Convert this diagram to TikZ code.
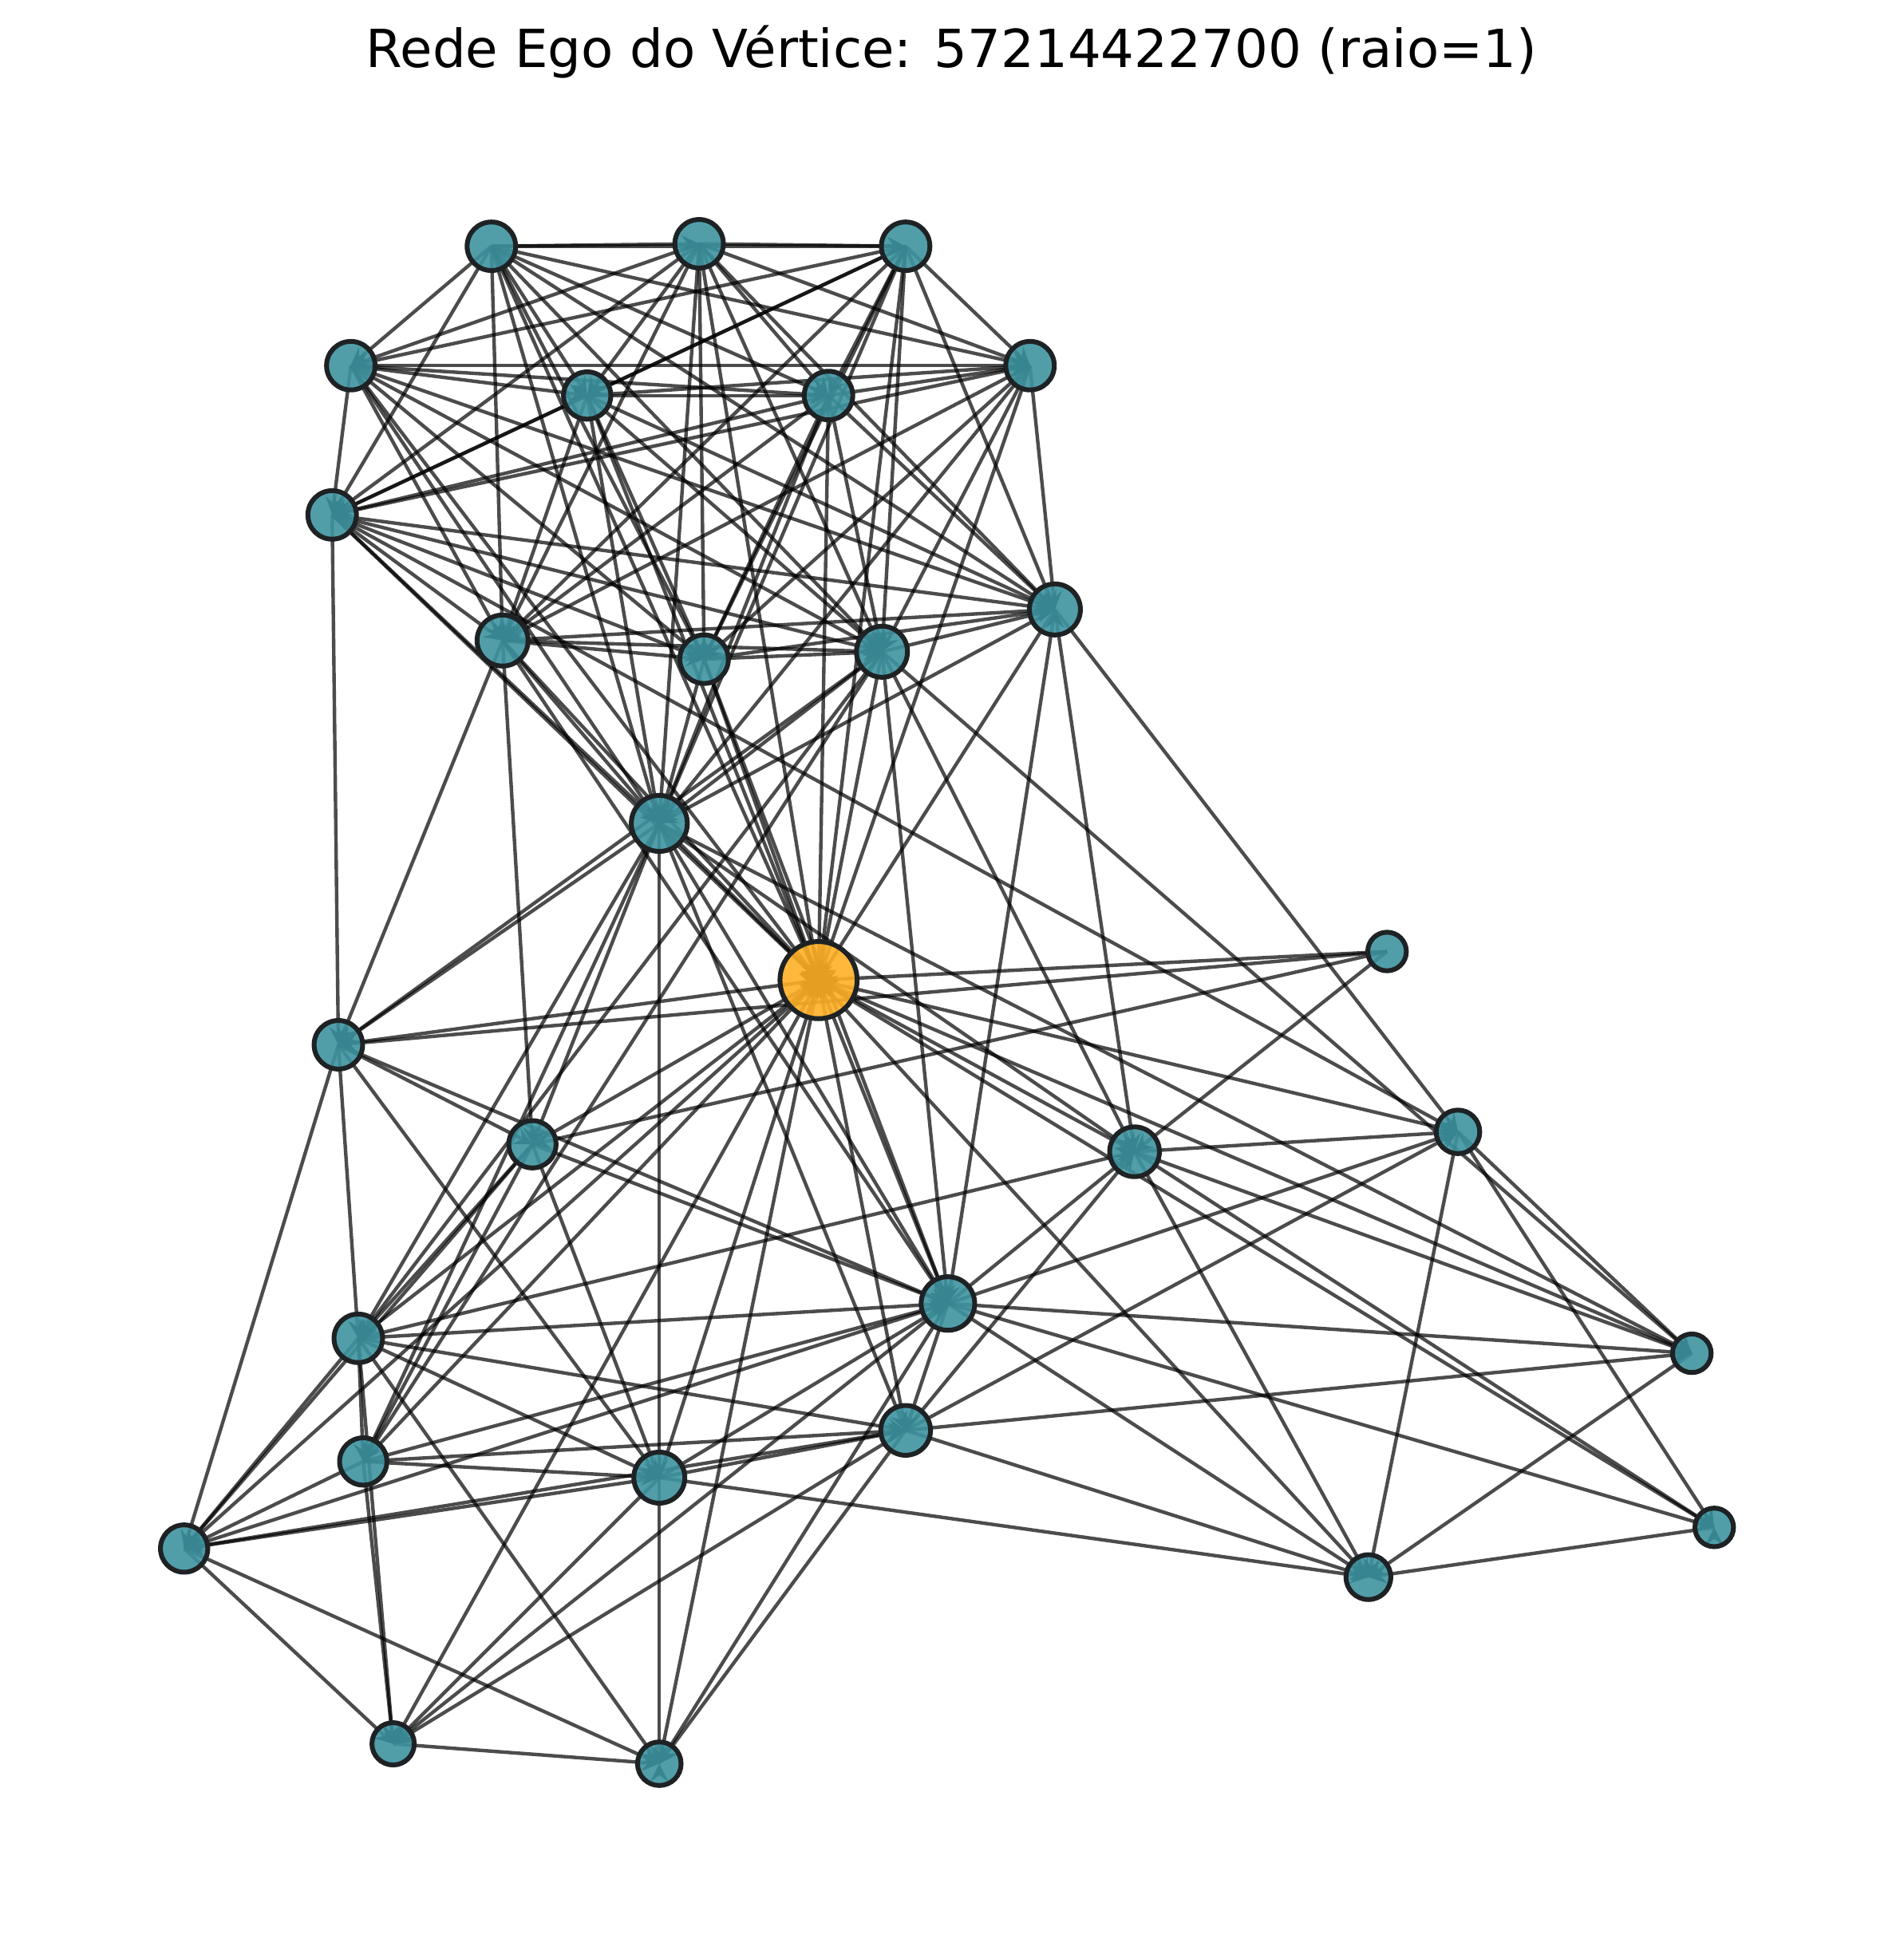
\documentclass[tikz,border=0pt]{standalone}
\usepackage{fontspec}
\setmainfont{DejaVu Sans}
\usetikzlibrary{arrows}
\definecolor{nodeteal}{RGB}{62,148,160}
\definecolor{egoorange}{RGB}{255,176,38}
\definecolor{rimgray}{RGB}{30,34,36}
\pgfdeclarelayer{bg}
\pgfsetlayers{bg,main}

\begin{document}
\begin{tikzpicture}[x=0.01cm, y=-0.01cm,
	vtx/.style = {draw=rimgray, circle, fill=nodeteal, fill opacity=0.9, line width=1.1pt, inner sep=0pt, minimum size=#1},
	egovtx/.style = {vtx=#1, fill=egoorange, fill opacity=0.9},
	lnk/.style = {draw=black, draw opacity=0.7, line width=0.8pt, -stealth}]
	\useasboundingbox (0,0) rectangle (1530,1571);
	\node[font=\fontsize{12}{14}\selectfont] (title) at (765,42) {Rede Ego do Vértice: 57214422700 (raio=1)};
	% upper group
	\node[vtx=0.39cm] (a) at (395,198) {};
	\node[vtx=0.39cm] (b) at (562,196) {};
	\node[vtx=0.39cm] (c) at (728,198) {};
	\node[vtx=0.39cm] (d) at (282,294) {};
	\node[vtx=0.38cm] (e) at (472,318) {};
	\node[vtx=0.39cm] (f) at (666,318) {};
	\node[vtx=0.39cm] (g) at (828,294) {};
	\node[vtx=0.39cm] (h) at (267,414) {};
	\node[vtx=0.41cm] (i) at (404,515) {};
	\node[vtx=0.39cm] (j) at (566,530) {};
	\node[vtx=0.41cm] (k) at (709,524) {};
	\node[vtx=0.41cm] (l) at (848,490) {};
	\node[vtx=0.45cm] (m) at (530,662) {};
	\node[egovtx=0.62cm] (ego) at (658,788) {};
	% lower group
	\node[vtx=0.31cm] (n) at (1115,765) {};
	\node[vtx=0.39cm] (o) at (272,840) {};
	\node[vtx=0.38cm] (p) at (428,920) {};
	\node[vtx=0.40cm] (q) at (912,926) {};
	\node[vtx=0.35cm] (r) at (1172,910) {};
	\node[vtx=0.43cm] (s) at (762,1048) {};
	\node[vtx=0.39cm] (t) at (288,1076) {};
	\node[vtx=0.31cm] (u) at (1360,1088) {};
	\node[vtx=0.38cm] (v) at (292,1175) {};
	\node[vtx=0.41cm] (w) at (530,1188) {};
	\node[vtx=0.40cm] (x) at (728,1150) {};
	\node[vtx=0.31cm] (y) at (1378,1228) {};
	\node[vtx=0.38cm] (z) at (148,1245) {};
	\node[vtx=0.36cm] (aa) at (1100,1268) {};
	\node[vtx=0.34cm] (ab) at (316,1402) {};
	\node[vtx=0.35cm] (ac) at (530,1418) {};
	\begin{pgfonlayer}{bg}
	% edges of the upper group
	\path[lnk]
	(a.center) edge (b.center) (a.center) edge (c.center) (a.center) edge (d.center) (a.center) edge (e.center)
	(a.center) edge (f.center) (a.center) edge (g.center) (a.center) edge (h.center) (a.center) edge (i.center)
	(a.center) edge (j.center) (a.center) edge (k.center) (a.center) edge (l.center) (a.center) edge (m.center)
	(b.center) edge (c.center) (b.center) edge (d.center) (b.center) edge (e.center) (b.center) edge (f.center)
	(b.center) edge (g.center) (b.center) edge (h.center) (b.center) edge (i.center) (b.center) edge (j.center)
	(b.center) edge (k.center) (b.center) edge (l.center) (b.center) edge (m.center)
	(c.center) edge (d.center) (c.center) edge (e.center) (c.center) edge (f.center) (c.center) edge (g.center)
	(c.center) edge (h.center) (c.center) edge (i.center) (c.center) edge (j.center) (c.center) edge (k.center)
	(c.center) edge (l.center) (c.center) edge (m.center)
	(d.center) edge (e.center) (d.center) edge (f.center) (d.center) edge (g.center) (d.center) edge (h.center)
	(d.center) edge (i.center) (d.center) edge (j.center) (d.center) edge (k.center) (d.center) edge (l.center)
	(d.center) edge (m.center)
	(e.center) edge (f.center) (e.center) edge (g.center) (e.center) edge (h.center) (e.center) edge (i.center)
	(e.center) edge (j.center) (e.center) edge (k.center) (e.center) edge (l.center) (e.center) edge (m.center)
	(f.center) edge (g.center) (f.center) edge (h.center) (f.center) edge (i.center) (f.center) edge (j.center)
	(f.center) edge (k.center) (f.center) edge (l.center) (f.center) edge (m.center)
	(g.center) edge (h.center) (g.center) edge (i.center) (g.center) edge (j.center) (g.center) edge (k.center)
	(g.center) edge (l.center) (g.center) edge (m.center)
	(h.center) edge (i.center) (h.center) edge (j.center) (h.center) edge (k.center) (h.center) edge (l.center)
	(h.center) edge (m.center)
	(i.center) edge (j.center) (i.center) edge (k.center) (i.center) edge (l.center) (i.center) edge (m.center)
	(j.center) edge (k.center) (j.center) edge (l.center) (j.center) edge (m.center)
	(k.center) edge (l.center) (k.center) edge (m.center) (l.center) edge (m.center);
	% edges to the ego vertex
	\path[lnk]
	(a.center) edge (ego.center) (b.center) edge (ego.center) (c.center) edge (ego.center) (d.center) edge (ego.center)
	(e.center) edge (ego.center) (f.center) edge (ego.center) (g.center) edge (ego.center) (h.center) edge (ego.center)
	(i.center) edge (ego.center) (j.center) edge (ego.center) (k.center) edge (ego.center) (l.center) edge (ego.center)
	(m.center) edge (ego.center) (n.center) edge (ego.center) (o.center) edge (ego.center) (p.center) edge (ego.center)
	(q.center) edge (ego.center) (r.center) edge (ego.center) (s.center) edge (ego.center) (t.center) edge (ego.center)
	(u.center) edge (ego.center) (v.center) edge (ego.center) (w.center) edge (ego.center) (x.center) edge (ego.center)
	(y.center) edge (ego.center) (z.center) edge (ego.center) (aa.center) edge (ego.center) (ab.center) edge (ego.center)
	(ac.center) edge (ego.center);
	% edges between the groups
	\path[lnk]
	(h.center) edge (o.center) (h.center) edge (r.center) (i.center) edge (o.center) (i.center) edge (p.center)
	(i.center) edge (s.center)
	(m.center) edge (o.center) (m.center) edge (p.center) (m.center) edge (t.center) (m.center) edge (v.center)
	(m.center) edge (w.center) (m.center) edge (x.center) (m.center) edge (s.center) (m.center) edge (q.center)
	(m.center) edge (u.center)
	(k.center) edge (o.center) (k.center) edge (t.center) (k.center) edge (v.center) (k.center) edge (s.center)
	(k.center) edge (q.center) (k.center) edge (u.center)
	(j.center) edge (s.center) (l.center) edge (q.center) (l.center) edge (r.center) (l.center) edge (s.center);
	% edges of the lower group
	\path[lnk]
	(n.center) edge (o.center) (n.center) edge (p.center) (n.center) edge (q.center)
	(o.center) edge (p.center) (o.center) edge (t.center) (o.center) edge (z.center) (o.center) edge (s.center)
	(o.center) edge (w.center)
	(p.center) edge (s.center) (p.center) edge (w.center) (p.center) edge (t.center) (p.center) edge (v.center)
	(p.center) edge (z.center)
	(t.center) edge (v.center) (t.center) edge (z.center) (t.center) edge (ab.center) (t.center) edge (s.center)
	(t.center) edge (x.center) (t.center) edge (w.center) (t.center) edge (ac.center) (t.center) edge (q.center)
	(v.center) edge (z.center) (v.center) edge (w.center) (v.center) edge (x.center) (v.center) edge (s.center)
	(v.center) edge (ab.center)
	(w.center) edge (s.center) (w.center) edge (x.center) (w.center) edge (aa.center) (w.center) edge (ab.center)
	(w.center) edge (ac.center) (w.center) edge (z.center)
	(s.center) edge (x.center) (s.center) edge (q.center) (s.center) edge (r.center) (s.center) edge (u.center)
	(s.center) edge (y.center) (s.center) edge (aa.center) (s.center) edge (ab.center) (s.center) edge (ac.center)
	(s.center) edge (z.center)
	(x.center) edge (q.center) (x.center) edge (r.center) (x.center) edge (u.center) (x.center) edge (aa.center)
	(x.center) edge (z.center) (x.center) edge (ab.center) (x.center) edge (ac.center)
	(z.center) edge (ab.center) (z.center) edge (ac.center) (ab.center) edge (ac.center)
	(q.center) edge (r.center) (q.center) edge (u.center) (q.center) edge (y.center) (q.center) edge (aa.center)
	(r.center) edge (u.center) (r.center) edge (y.center) (r.center) edge (aa.center)
	(u.center) edge (aa.center) (y.center) edge (aa.center);
	\end{pgfonlayer}
\end{tikzpicture}
\end{document}
